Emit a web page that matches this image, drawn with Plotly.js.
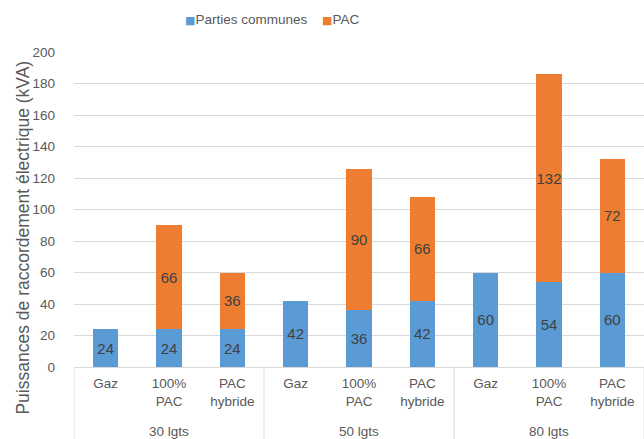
<!DOCTYPE html>
<html>
<head>
<meta charset="utf-8">
<script src="https://cdn.plot.ly/plotly-3.0.1.min.js"></script>
<style>html,body{margin:0;padding:0;background:#fff;}#chart{width:644px;height:439px;}</style>
</head>
<body>
<div id="chart"></div>
<script>
const groups = ['30 lgts','30 lgts','30 lgts','50 lgts','50 lgts','50 lgts','80 lgts','80 lgts','80 lgts'];
const categories = ['Gaz','100%<br>PAC','PAC<br>hybride','Gaz','100%<br>PAC','PAC<br>hybride','Gaz','100%<br>PAC','PAC<br>hybride'];
const seriesNames = ['Parties communes', 'PAC'];
const seriesColors = ['#5b9bd5', '#ed7d31'];
const partiesCommunes = [24,24,24,42,36,42,60,54,60];
const pac = [null,66,36,null,90,66,null,132,72];
const yTicks = [0,20,40,60,80,100,120,140,160,180,200];

const SANS = '"Liberation Sans", Arial, sans-serif';
const GREY = '#595959';
const LINE = '#d9d9d9';
const FS = 13.5;

const xIdx = categories.map((_, i) => i);
const labelFont = {family: SANS, size: 15, color: '#404040'};

const traces = [partiesCommunes, pac].map((vals, k) => ({
  type: 'bar', name: seriesNames[k],
  x: xIdx, y: vals,
  marker: {color: seriesColors[k]},
  text: vals.map(v => v == null ? '' : String(v)),
  textposition: 'inside', insidetextanchor: 'middle', constraintext: 'none', textangle: 0,
  textfont: labelFont, hoverinfo: 'skip'
}));

// group boundaries and group label positions derived from the groups array
const dividers = [-0.5];
const groupLabels = [];
let start = 0;
for (let i = 1; i <= groups.length; i++) {
  if (i === groups.length || groups[i] !== groups[start]) {
    dividers.push(i - 0.5);
    groupLabels.push({name: groups[start], center: (start + i - 1) / 2});
    start = i;
  }
}

const BOTTOM = -0.235;
const shapes = dividers.map(x => ({
  type: 'line', xref: 'x', yref: 'paper', x0: x, x1: x, y0: 0, y1: BOTTOM,
  line: {color: LINE, width: 1}
}));

const annotations = groupLabels.map(g => ({
  text: g.name, showarrow: false, xref: 'x', yref: 'paper',
  x: g.center, y: -0.206, xanchor: 'center', yanchor: 'middle',
  font: {family: SANS, size: FS, color: GREY}
}));

// legend (top, horizontal)
const legendX = [0.191, 0.432];
seriesNames.forEach((name, k) => {
  annotations.push({
    text: '<span style="color:' + seriesColors[k] + ';font-size:11px;font-family:DejaVu Sans">■</span>' + name,
    showarrow: false, xref: 'paper', yref: 'paper',
    x: legendX[k], y: 1.1016, xanchor: 'left', yanchor: 'middle',
    font: {family: SANS, size: FS, color: GREY}
  });
});

annotations.push({
  text: 'Puissances de raccordement électrique (kVA)',
  textangle: -90, showarrow: false,
  xref: 'paper', yref: 'paper', x: -0.09, y: 0.41, xanchor: 'center', yanchor: 'middle',
  font: {family: SANS, size: 17.5, color: GREY}
});

const layout = {
  width: 644, height: 439,
  margin: {l: 74, r: 0, t: 52, b: 72, pad: 0},
  barmode: 'stack', bargap: 0.6,
  paper_bgcolor: '#fff', plot_bgcolor: '#fff',
  font: {family: SANS, size: FS, color: GREY},
  showlegend: false,
  xaxis: {
    range: [-0.5, categories.length - 0.5],
    tickvals: xIdx, ticktext: categories,
    showline: true, linecolor: LINE, linewidth: 1,
    tickfont: {family: SANS, size: FS, color: GREY},
    ticks: '', showgrid: false, zeroline: false, ticklabelstandoff: 4
  },
  yaxis: {
    range: [0, 200], tickvals: yTicks, ticktext: yTicks.map(String),
    gridcolor: LINE, gridwidth: 1, zeroline: false,
    ticks: '', ticklabelstandoff: 18,
    tickfont: {family: SANS, size: FS, color: GREY}
  },
  shapes: shapes,
  annotations: annotations
};

Plotly.newPlot('chart', traces, layout, {displayModeBar: false, staticPlot: true});
</script>
</body>
</html>
